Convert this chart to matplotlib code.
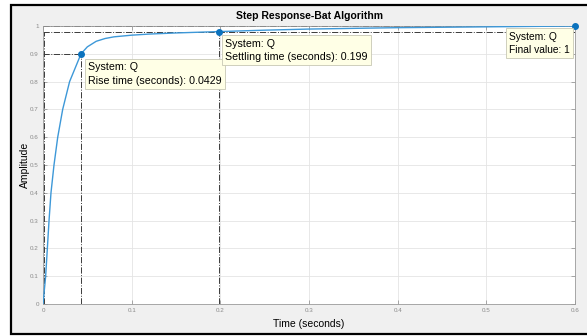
"""Step response of system Q (Bat Algorithm tuning), MATLAB stepinfo style."""

import matplotlib
matplotlib.use("Agg")
import matplotlib.pyplot as plt
from matplotlib.patches import Rectangle

plt.rcParams["font.family"] = ["Liberation Sans", "DejaVu Sans"]

# step response
time_s = [0.0, 0.0015, 0.003, 0.0049, 0.0068, 0.009, 0.0124, 0.0166, 0.0222,
          0.030, 0.0429, 0.050, 0.060, 0.070, 0.080, 0.100, 0.120, 0.150,
          0.199, 0.250, 0.300, 0.400, 0.500, 0.600]
amplitude = [0.0, 0.05, 0.1, 0.2, 0.3, 0.4, 0.5, 0.6, 0.7,
             0.8, 0.9, 0.925, 0.945, 0.955, 0.961, 0.967, 0.971, 0.975,
             0.98, 0.985, 0.989, 0.994, 0.997, 1.0]

rise_time = 0.0429
rise_level = 0.9
settling_time = 0.199
settling_level = 0.98
final_time = 0.6
final_value = 1.0

x_ticks = [0, 0.1, 0.2, 0.3, 0.4, 0.5, 0.6]
x_labels = ["0", "0.1", "0.2", "0.3", "0.4", "0.5", "0.6"]
y_ticks = [0, 0.1, 0.2, 0.3, 0.4, 0.5, 0.6, 0.7, 0.8, 0.9, 1.0]
y_labels = ["0", "0.1", "0.2", "0.3", "0.4", "0.5", "0.6", "0.7", "0.8", "0.9", "1"]

LINE = "#3d98d8"
DOT = "#0b72bd"
CHAR = "#3a3a3a"
TIP = dict(boxstyle="square,pad=0.3", facecolor="#ffffe6", edgecolor="#c8c8b4", linewidth=0.6)

fig = plt.figure(figsize=(5.87, 3.36), dpi=100, facecolor="white")
fig.patches.append(Rectangle((11 / 587, 2 / 336), 580 / 587, 329 / 336,
                             transform=fig.transFigure, facecolor="#f0f0f0",
                             edgecolor="black", linewidth=1.6, zorder=-5))
ax = fig.add_axes([43 / 587, 1 - 304 / 336, 532 / 587, 278 / 336])
ax.set_zorder(2)
ax.set_facecolor("white")

# characteristic guide lines
dash = dict(color=CHAR, linestyle="-.", linewidth=0.7, zorder=2)
ax.plot([0.0015, 0.0015], [0, settling_level], **dash)
ax.plot([0, rise_time], [rise_level, rise_level], **dash)
ax.plot([rise_time, rise_time], [0, rise_level], **dash)
ax.plot([0, final_time], [settling_level, settling_level], **dash)
ax.plot([settling_time, settling_time], [0, settling_level], **dash)
ax.plot([0, final_time], [final_value, final_value], **dash)

ax.plot(time_s, amplitude, color=LINE, linewidth=1.0, zorder=3)
ax.plot([rise_time, settling_time, final_time], [rise_level, settling_level, final_value],
        "o", color=DOT, markersize=4, zorder=4, clip_on=False)

ax.text(0.0508, 0.869, f"System: Q\nRise time (seconds): {rise_time}",
        fontsize=7.7, va="top", ha="left", linespacing=1.45, bbox=TIP, zorder=5)
ax.text(0.2053, 0.955, f"System: Q\nSettling time (seconds): {settling_time}",
        fontsize=7.7, va="top", ha="left", linespacing=1.45, bbox=TIP, zorder=5)
ax.text(0.5255, 0.980, "System: Q\nFinal value: 1",
        fontsize=7.4, va="top", ha="left", linespacing=1.45, bbox=TIP, zorder=5)

ax.set_xlim(0, 0.6)
ax.set_ylim(0, 1)
ax.set_xticks(x_ticks, x_labels)
ax.set_yticks(y_ticks, y_labels)
ax.tick_params(direction="in", length=3, width=0.5, labelsize=4.5, colors="#8a8a8a",
               top=True, right=True, pad=3)
ax.grid(True, color="#e4e4e4", linewidth=0.6, zorder=0)
ax.set_axisbelow(True)
for sp in ax.spines.values():
    sp.set_color("#9a9a9a")
    sp.set_linewidth(0.6)

ax.set_title("Step Response-Bat Algorithm", fontsize=7.5, fontweight="bold", pad=5)
ax.set_xlabel("Time (seconds)", fontsize=7.5, labelpad=4)
ax.set_ylabel("Amplitude", fontsize=7.5, labelpad=0)

fig.savefig("out.png", dpi=100, facecolor=fig.get_facecolor())
